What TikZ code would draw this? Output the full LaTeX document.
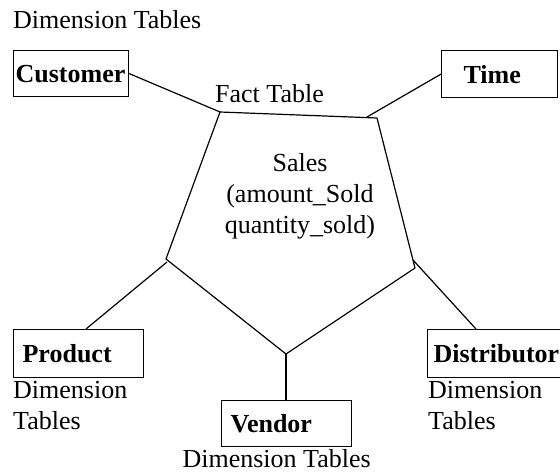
\documentclass[tikz,border=0pt]{standalone}
\usepackage{fontspec}
\setmainfont{Liberation Serif}
\usetikzlibrary{positioning}

\begin{document}
\begin{tikzpicture}[x=1pt, y=-1pt,
        font=\fontsize{26}{31}\selectfont,
        dimbox/.style={rectangle, draw, line width=1.2pt, anchor=north west, align=left, font={\fontsize{26}{31}\selectfont\bfseries}, text height=18pt, text depth=0pt},
        dimlabel/.style={align=left, inner sep=0pt, anchor=north west},
        link/.style={line width=1.2pt}
    ]
        \useasboundingbox (0,0) rectangle (560,476);

        % Fact table outline
        \coordinate (tl) at (220,112);
        \coordinate (tr) at (377,118);
        \coordinate (rv) at (415,268);
        \coordinate (bv) at (286,354);
        \coordinate (lv) at (166,259);
        \draw [link, line join=round] (tl) -- (tr) -- (rv) -- (bv) -- (lv) -- cycle;

        \node (factlabel) [inner sep=0pt, anchor=base west] at (215,103) {Fact Table};
        \node (sales) [align=center, inner sep=0pt, anchor=north] at (300,153) {Sales\\(amount\_Sold\\quantity\_sold)};

        % Dimension tables
        \node (toplabel) [dimlabel] at (13,10) {Dimension Tables};
        \node (customer) [dimbox, minimum width=115pt, minimum height=46pt, inner xsep=2pt, text width=111pt] at (13,50) {Customer};
        \node (time) [dimbox, minimum width=116pt, minimum height=47pt, inner xsep=22pt, text width=72pt] at (441,50) {Time};
        \node (product) [dimbox, minimum width=130pt, minimum height=48pt, inner xsep=9pt, text width=112pt] at (13,329) {Product};
        \node (distributor) [dimbox, minimum width=160pt, minimum height=48pt, inner xsep=6pt, text width=148pt] at (427,329) {Distributor};
        \node (vendor) [dimbox, minimum width=130pt, minimum height=46pt, inner xsep=9pt, text width=112pt] at (221,400) {Vendor};

        \node (productdim) [dimlabel, below=3pt of product.south west, anchor=north west] {Dimension\\Tables};
        \node (distributordim) [dimlabel, below=3pt of distributor.south west, anchor=north west, xshift=1pt] {Dimension\\Tables};
        \node (vendordim) [dimlabel, below=2pt of vendor.south, anchor=north, xshift=-10pt] {Dimension Tables};

        % Links
        \coordinate (timeend) at (367,117);
        \coordinate (productstart) at (167,262);
        \coordinate (distributorstart) at (413,260);
        \draw [link] (customer.east) -- (tl);
        \draw [link] (time.west) -- (timeend);
        \draw [link] (productstart) -- (product.north -| 86,0);
        \draw [link] (distributorstart) -- (distributor.north -| 476,0);
        \draw [link] (bv) -- (vendor.north -| bv);
    \end{tikzpicture}
\end{document}
